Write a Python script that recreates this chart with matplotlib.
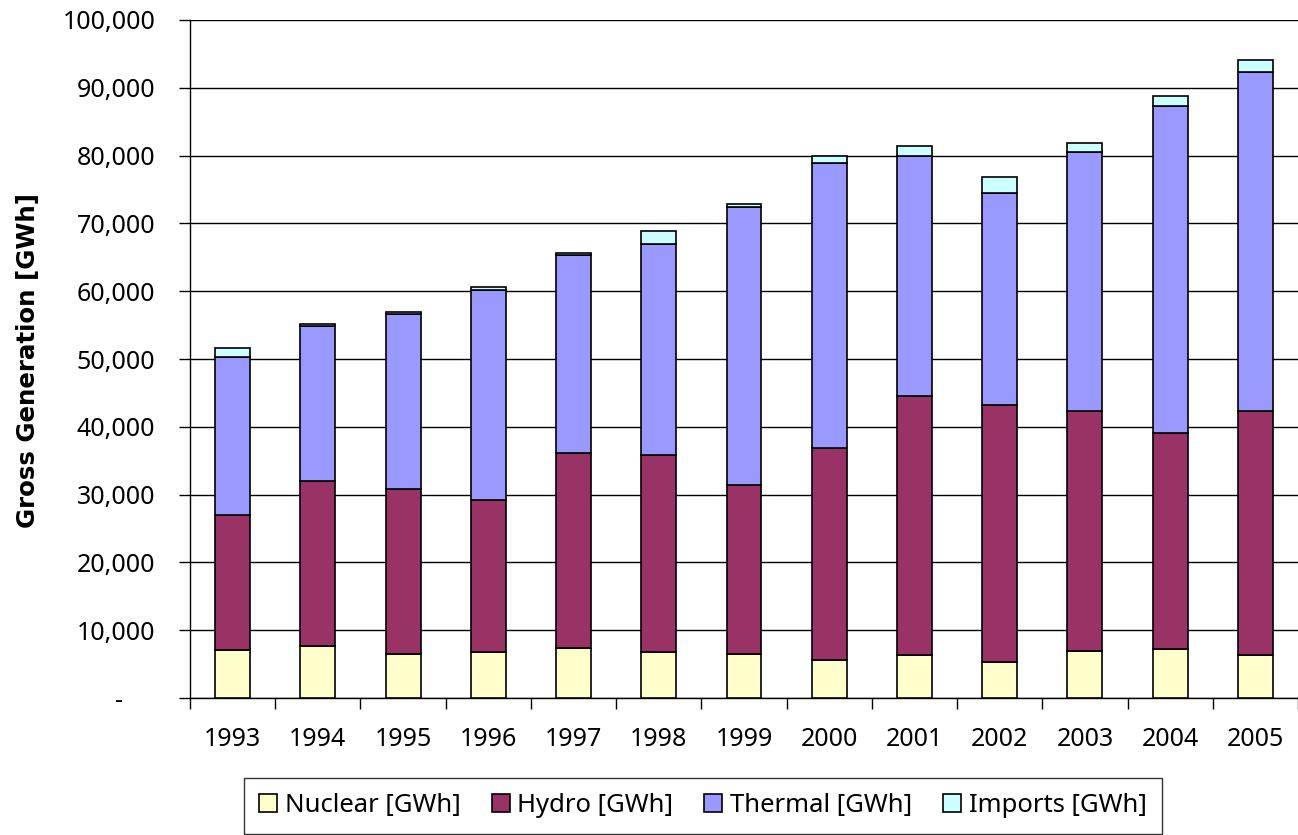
import matplotlib
matplotlib.use("Agg")
import matplotlib.pyplot as plt
import numpy as np
from matplotlib.ticker import FuncFormatter, MultipleLocator, FixedLocator

years = ["1993", "1994", "1995", "1996", "1997", "1998", "1999",
         "2000", "2001", "2002", "2003", "2004", "2005"]
nuclear = [7100, 7600, 6500, 6800, 7350, 6800, 6500, 5600, 6400, 5350, 7000, 7200, 6300]
hydro = [19900, 24400, 24300, 22400, 28850, 29000, 24900, 31300, 38200, 37800, 35400, 31900, 36100]
thermal = [23300, 22900, 25800, 31000, 29100, 31200, 41000, 42000, 35300, 31400, 38200, 48200, 49900]
imports = [1300, 300, 300, 400, 400, 1900, 400, 1100, 1500, 2300, 1300, 1500, 1800]

series = [("Nuclear [GWh]", nuclear, "#FFFFCC"),
          ("Hydro [GWh]", hydro, "#993366"),
          ("Thermal [GWh]", thermal, "#9999FF"),
          ("Imports [GWh]", imports, "#CCFFFF")]

plt.rcParams['font.family'] = ['Noto Sans', 'DejaVu Sans']

W, H = 1298, 835
fig = plt.figure(figsize=(W/100, H/100), dpi=100)
ax = fig.add_axes([190/W, 1-698/H, 1-190/W, (698-20)/H])

x = np.arange(len(years))
bottom = np.zeros(len(years))
handles = []
for name, vals, col in series:
    v = np.array(vals, dtype=float)
    b = ax.bar(x, v, bottom=bottom, width=0.41, color=col, edgecolor="black",
               linewidth=1.2, label=name, zorder=3)
    handles.append(b)
    bottom += v

ax.set_xlim(-0.5, len(years) - 0.5)
ax.set_ylim(0, 100000)
ax.yaxis.set_major_locator(MultipleLocator(10000))

def fmt(v, pos):
    if v == 0:
        return "-     "
    return f"{int(v):,}"
ax.yaxis.set_major_formatter(FuncFormatter(fmt))

ax.set_xticks(x)
ax.set_xticklabels(years)
ax.xaxis.set_minor_locator(FixedLocator(np.arange(-0.5, len(years), 1.0)))
ax.tick_params(axis='x', which='major', length=0, pad=21, labelsize=18)
ax.tick_params(axis='x', which='minor', length=8, width=1, direction='out')
ax.tick_params(axis='y', which='major', length=8, width=1, direction='out', pad=17, labelsize=18)

ax.grid(axis='y', color='black', linewidth=1, zorder=0)
ax.set_axisbelow(True)
for s in ['top', 'right']:
    ax.spines[s].set_visible(False)
ax.spines['left'].set_linewidth(1)
ax.spines['bottom'].set_linewidth(1)

yl = fig.text(28/W, 1-360/H, "Gross Generation [GWh]", rotation=90,
              fontsize=17, fontweight='bold', ha='center', va='center',
              family=['DejaVu Sans'])
# fit the label length to the reference (~336 px)
fig.canvas.draw()
r = fig.canvas.get_renderer()
h = yl.get_window_extent(r).height
yl.set_fontsize(17 * 336 / h)

leg = fig.legend(handles=handles, labels=[s[0] for s in series], loc='upper center',
                 bbox_to_anchor=(703/W, 1-778/H), ncol=4, frameon=True,
                 fancybox=False, edgecolor='black', fontsize=18.5,
                 handlelength=0.7, handleheight=0.7, handletextpad=0.3,
                 columnspacing=1.2, borderpad=0.6, borderaxespad=0)
leg.get_frame().set_linewidth(1)

fig.savefig("out.png", dpi=100)
